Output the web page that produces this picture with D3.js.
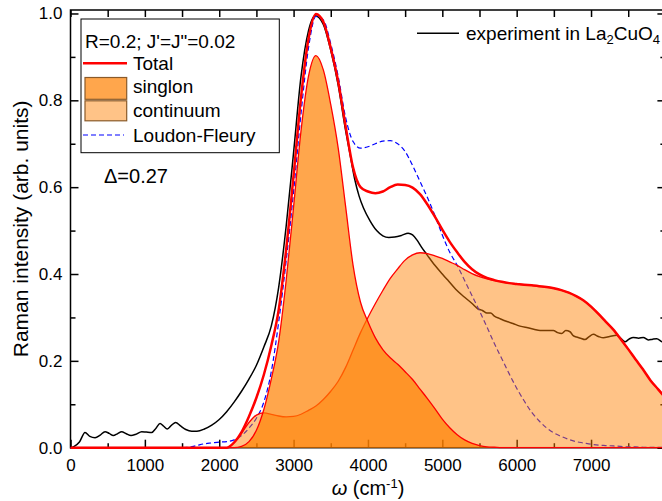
<!DOCTYPE html>
<html>
<head>
<meta charset="utf-8">
<script src="https://cdn.jsdelivr.net/npm/d3@7"></script>
<style>
  body { margin: 0; background: #fff; }
  svg { display: block; }
</style>
</head>
<body>
<svg id="chart" width="662" height="501"></svg>
<script>
// ---- measured spectrum (La2CuO4) ----
const expFreq = [0, 50, 120, 195, 260, 330, 400, 464, 520, 576, 630, 688, 750, 814, 880, 957, 1020, 1092, 1150, 1204,
  1250, 1302, 1360, 1414, 1480, 1550, 1630, 1700, 1800, 1900, 2000, 2100, 2200, 2300, 2400, 2500, 2600, 2700, 2800, 2900,
  3000, 3100, 3200, 3290, 3400, 3500, 3600, 3700, 3760, 3820, 3880, 3940, 4030, 4117, 4200, 4280, 4360, 4454, 4540, 4600,
  4660, 4720, 4800, 4900, 5000, 5073, 5180, 5296, 5400, 5476, 5540, 5600, 5650, 5700, 5777, 5880, 5950, 6045, 6150, 6230,
  6314, 6400, 6493, 6550, 6606, 6660, 6717, 6760, 6806, 6860, 6919, 6975, 7031, 7100, 7165, 7250, 7345, 7400, 7457, 7510,
  7569, 7640, 7703, 7770, 7830, 7883, 7955, 8000];
const expIntensity = [0, 0.003, 0.013, 0.035, 0.026, 0.023, 0.029, 0.037, 0.033, 0.028, 0.032, 0.037, 0.032, 0.028, 0.031, 0.037, 0.036, 0.035, 0.045, 0.056,
  0.05, 0.043, 0.052, 0.058, 0.05, 0.042, 0.038, 0.038, 0.043, 0.052, 0.065, 0.083, 0.105, 0.13, 0.158, 0.19, 0.232, 0.28, 0.37, 0.51,
  0.68, 0.855, 0.96, 0.995, 0.975, 0.915, 0.835, 0.73, 0.675, 0.62, 0.58, 0.552, 0.522, 0.5, 0.488, 0.484, 0.485, 0.489, 0.494, 0.49,
  0.478, 0.462, 0.443, 0.42, 0.4, 0.386, 0.365, 0.347, 0.332, 0.32, 0.316, 0.31, 0.31, 0.303, 0.297, 0.29, 0.286, 0.28, 0.276, 0.273,
  0.27, 0.27, 0.27, 0.265, 0.263, 0.27, 0.267, 0.258, 0.255, 0.252, 0.249, 0.256, 0.261, 0.256, 0.253, 0.256, 0.259, 0.252, 0.244, 0.25,
  0.254, 0.252, 0.254, 0.248, 0.25, 0.251, 0.244, 0.242];

// ---- model curves on a common frequency grid ----
const modelFreq = [0, 1500, 1600, 1700, 1800, 1900, 2000, 2100, 2200, 2300, 2400, 2500, 2600, 2700, 2800, 2900,
  3000, 3100, 3200, 3300, 3400, 3500, 3600, 3700, 3800, 3900, 4000, 4100, 4200, 4300, 4400, 4500, 4600, 4700, 4800, 4900,
  5000, 5100, 5200, 5300, 5400, 5500, 5600, 5700, 5800, 5900, 6000, 6100, 6200, 6300, 6400, 6500, 6600, 6700, 6800, 6900,
  7000, 7100, 7200, 7300, 7400, 7500, 7600, 7700, 7800, 7900, 8000];
const singlon = [0, 0, 0, 0, 0, 0, 0, 0, 0, 0.003, 0.014, 0.04, 0.088, 0.158, 0.245, 0.385,
  0.555, 0.73, 0.855, 0.903, 0.87, 0.79, 0.69, 0.555, 0.42, 0.335, 0.29, 0.253, 0.226, 0.207, 0.192, 0.175, 0.157, 0.135, 0.113, 0.09,
  0.066, 0.046, 0.03, 0.018, 0.01, 0.005, 0.002, 0.001, 0, 0, 0, 0, 0, 0, 0, 0, 0, 0, 0, 0,
  0, 0, 0, 0, 0, 0, 0, 0, 0, 0, 0];
const continuum = [0, 0, 0, 0, 0, 0, 0, 0, 0.012, 0.033, 0.058, 0.075, 0.08, 0.077, 0.073, 0.071,
  0.072, 0.077, 0.086, 0.096, 0.111, 0.13, 0.153, 0.185, 0.225, 0.265, 0.3, 0.332, 0.362, 0.39, 0.412, 0.432, 0.444, 0.449, 0.447, 0.442,
  0.436, 0.428, 0.42, 0.41, 0.401, 0.394, 0.389, 0.385, 0.382, 0.379, 0.377, 0.375, 0.374, 0.372, 0.37, 0.367, 0.363, 0.357, 0.349, 0.339,
  0.325, 0.308, 0.29, 0.272, 0.25, 0.227, 0.203, 0.18, 0.155, 0.135, 0.115];
const total = [0, 0, 0, 0, 0, 0, 0, 0, 0.012, 0.036, 0.072, 0.115, 0.168, 0.235, 0.318, 0.456,
  0.627, 0.807, 0.941, 0.999, 0.981, 0.92, 0.843, 0.74, 0.645, 0.6, 0.59, 0.586, 0.59, 0.6, 0.606, 0.605, 0.599, 0.584, 0.56, 0.532,
  0.502, 0.474, 0.45, 0.428, 0.411, 0.399, 0.391, 0.386, 0.382, 0.379, 0.377, 0.375, 0.374, 0.372, 0.37, 0.367, 0.363, 0.357, 0.349, 0.339,
  0.325, 0.308, 0.29, 0.272, 0.25, 0.227, 0.203, 0.18, 0.155, 0.135, 0.115];
const loudonFleury = [0, 0, 0.001, 0.005, 0.009, 0.011, 0.013, 0.014, 0.018, 0.028, 0.045, 0.068, 0.105, 0.175, 0.29, 0.43,
  0.59, 0.77, 0.92, 0.993, 0.985, 0.93, 0.855, 0.76, 0.705, 0.69, 0.693, 0.7, 0.706, 0.707, 0.7, 0.682, 0.65, 0.613, 0.576, 0.535,
  0.49, 0.45, 0.42, 0.385, 0.35, 0.315, 0.278, 0.24, 0.205, 0.17, 0.137, 0.108, 0.082, 0.062, 0.046, 0.034, 0.026, 0.019, 0.014, 0.011,
  0.008, 0.006, 0.005, 0.004, 0.003, 0.002, 0.002, 0.001, 0.001, 0.001, 0.001];

// ---- ticks ----
const xMajorTicks = [0, 1000, 2000, 3000, 4000, 5000, 6000, 7000];
const xMinorTicks = [500, 1500, 2500, 3500, 4500, 5500, 6500, 7500];
const yMajorTicks = [0, 0.2, 0.4, 0.6, 0.8, 1.0];
const yMinorTicks = [0.1, 0.3, 0.5, 0.7, 0.9];

const FONT = "'Liberation Sans', Arial, Helvetica, sans-serif";
const ORANGE = "#FF8000";

const plot = { left: 70.5, right: 665.4, top: 10, bottom: 447.7 };
const x = d3.scaleLinear().domain([0, 8000]).range([plot.left, plot.right]);
const y = d3.scaleLinear().domain([0, 1.008]).range([plot.bottom, plot.top]);

const svg = d3.select("#chart").attr("font-family", FONT);

// ---- axes ----
function addAxis(axis, transform, fontSize) {
  const g = svg.append("g").attr("transform", transform).call(axis)
    .attr("font-family", FONT).attr("font-size", fontSize || 17);
  g.select(".domain").remove();
  g.selectAll(".tick line").attr("stroke", "#000").attr("stroke-width", 1.5);
  g.selectAll(".tick text").attr("fill", "#000");
  return g;
}
const noLabel = () => "";
addAxis(d3.axisBottom(x).tickValues(xMajorTicks).tickSize(-8).tickPadding(11.5).tickFormat(d3.format("d")),
  `translate(0,${plot.bottom})`);
addAxis(d3.axisBottom(x).tickValues(xMinorTicks).tickSize(-4.5).tickFormat(noLabel), `translate(0,${plot.bottom})`);
addAxis(d3.axisLeft(y).tickValues(yMajorTicks).tickSize(-8).tickPadding(8).tickFormat(d3.format(".1f")),
  `translate(${plot.left},0)`);
addAxis(d3.axisLeft(y).tickValues(yMinorTicks).tickSize(-5).tickFormat(noLabel), `translate(${plot.left},0)`);
addAxis(d3.axisTop(x).tickValues(xMajorTicks.concat(xMinorTicks)).tickSize(-7).tickFormat(noLabel),
  `translate(0,${plot.top})`);
addAxis(d3.axisRight(y).tickValues(yMajorTicks).tickSize(-8).tickFormat(noLabel), `translate(${plot.right},0)`);
addAxis(d3.axisRight(y).tickValues(yMinorTicks).tickSize(-5).tickFormat(noLabel), `translate(${plot.right},0)`);

svg.append("rect")
  .attr("x", plot.left).attr("y", plot.top)
  .attr("width", plot.right - plot.left).attr("height", plot.bottom - plot.top)
  .attr("fill", "none").attr("stroke", "#000").attr("stroke-width", 1.5);

// ---- curves ----
svg.append("clipPath").attr("id", "plotClip").append("rect")
  .attr("x", plot.left).attr("y", plot.top - 3)
  .attr("width", plot.right - plot.left).attr("height", plot.bottom - plot.top + 6);
const layer = svg.append("g").attr("clip-path", "url(#plotClip)");

const lineOf = (xs, ys) => d3.line()
  .x((d, i) => x(xs[i])).y(d => y(d)).curve(d3.curveMonotoneX)(ys);
const areaOf = (xs, ys) => d3.area()
  .x((d, i) => x(xs[i])).y0(y(0)).y1(d => y(d)).curve(d3.curveMonotoneX)(ys);

// experiment
layer.append("path").attr("d", lineOf(expFreq, expIntensity))
  .attr("fill", "none").attr("stroke", "#000").attr("stroke-width", 1.5);

// Loudon-Fleury
layer.append("path").attr("d", lineOf(modelFreq, loudonFleury))
  .attr("fill", "none").attr("stroke", "#0000FF").attr("stroke-width", 1.2)
  .attr("stroke-dasharray", "5,3");

// continuum
layer.append("path").attr("d", areaOf(modelFreq, continuum))
  .attr("fill", ORANGE).attr("fill-opacity", 0.47);
layer.append("path").attr("d", lineOf(modelFreq, continuum))
  .attr("fill", "none").attr("stroke", "#FF0000").attr("stroke-width", 1.3);

// singlon
layer.append("path").attr("d", areaOf(modelFreq, singlon))
  .attr("fill", ORANGE).attr("fill-opacity", 0.7);
layer.append("path").attr("d", lineOf(modelFreq, singlon))
  .attr("fill", "none").attr("stroke", "#FF0000").attr("stroke-width", 1.3);

// total
layer.append("path").attr("d", lineOf(modelFreq, total))
  .attr("fill", "none").attr("stroke", "#FF0000").attr("stroke-width", 2.5);

// ---- axis titles ----
svg.append("text")
  .attr("transform", `translate(28,${(plot.top + plot.bottom) / 2}) rotate(-90)`)
  .attr("text-anchor", "middle").attr("font-size", 21)
  .text("Raman intensity (arb. units)");

const xt = svg.append("text").attr("x", 368).attr("y", 495)
  .attr("text-anchor", "middle").attr("font-size", 20);
xt.append("tspan").attr("font-style", "italic").text("ω");
xt.append("tspan").text(" (cm");
xt.append("tspan").attr("font-size", 13).attr("dy", -7).text("-1");
xt.append("tspan").attr("dy", 7).text(")");

// ---- legend ----
const lg = svg.append("g");
lg.append("rect").attr("x", 81).attr("y", 19).attr("width", 198.3).attr("height", 133.7)
  .attr("fill", "#fff").attr("stroke", "#000").attr("stroke-width", 1);
lg.append("text").attr("x", 85).attr("y", 47.5).attr("font-size", 19).text("R=0.2; J'=J\"=0.02");

lg.append("line").attr("x1", 83).attr("x2", 127).attr("y1", 63.3).attr("y2", 63.3)
  .attr("stroke", "#FF0000").attr("stroke-width", 2.5);
lg.append("text").attr("x", 133).attr("y", 70).attr("font-size", 19).text("Total");

lg.append("rect").attr("x", 85).attr("y", 77.5).attr("width", 41.7).attr("height", 21.8)
  .attr("fill", ORANGE).attr("fill-opacity", 0.7).attr("stroke", "#8a5a2a").attr("stroke-width", 1.2);
lg.append("text").attr("x", 133).attr("y", 93).attr("font-size", 19).text("singlon");

lg.append("rect").attr("x", 85).attr("y", 100.8).attr("width", 41.7).attr("height", 20)
  .attr("fill", ORANGE).attr("fill-opacity", 0.47).attr("stroke", "#8a5a2a").attr("stroke-width", 1.2);
lg.append("text").attr("x", 133).attr("y", 116.7).attr("font-size", 19).text("continuum");

lg.append("line").attr("x1", 83).attr("x2", 124).attr("y1", 135).attr("y2", 135)
  .attr("stroke", "#0000FF").attr("stroke-width", 1.2).attr("stroke-dasharray", "5,3");
lg.append("text").attr("x", 133).attr("y", 141.7).attr("font-size", 19).text("Loudon-Fleury");

svg.append("text").attr("x", 104).attr("y", 182.5).attr("font-size", 20).text("Δ=0.27");

// experiment legend entry
svg.append("line").attr("x1", 417).attr("x2", 459).attr("y1", 33.3).attr("y2", 33.3)
  .attr("stroke", "#000").attr("stroke-width", 1.5);
const et = svg.append("text").attr("x", 466).attr("y", 40).attr("font-size", 19);
et.append("tspan").text("experiment in La");
et.append("tspan").attr("font-size", 13).attr("dy", 4).text("2");
et.append("tspan").attr("dy", -4).text("CuO");
et.append("tspan").attr("font-size", 13).attr("dy", 4).text("4");
</script>
</body>
</html>
